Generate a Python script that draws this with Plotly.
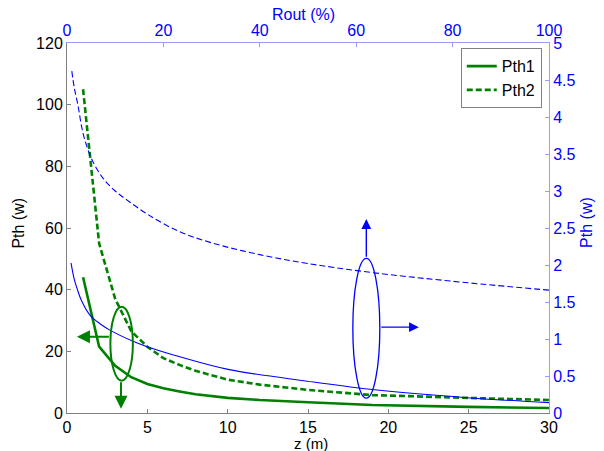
import plotly.graph_objects as go

# Threshold power against distance z (left / bottom axes)
z_m = [1, 2, 3, 4, 5, 6, 7, 8, 10, 12, 15, 19, 25, 30]
pth1_w = [44.0, 21.5, 15.3, 11.6, 9.4, 8.0, 7.0, 6.1, 4.9, 4.2, 3.5, 2.6, 2.0, 1.6]
pth2_w = [105.0, 55.0, 37.0, 26.5, 21.5, 17.8, 15.6, 13.7, 10.8, 9.2, 7.5, 5.8, 4.9, 4.2]

# Threshold power against output coupling Rout (top / right axes)
rout_solid = [0.83, 1.5, 2.1, 3, 4.8, 7, 8.9, 13.7, 18.7, 23.4, 33.4, 49.8, 62.9, 82.4, 100]
pth_solid = [2.03, 1.81, 1.68, 1.52, 1.32, 1.20, 1.12, 0.97, 0.85, 0.76, 0.59, 0.43, 0.32, 0.21, 0.14]
rout_dash = [1.0, 1.5, 2.3, 3.0, 3.7, 5.2, 7.5, 10, 12.4, 16.6, 23, 30, 40, 50, 63, 80, 100]
pth_dash = [4.62, 4.40, 4.15, 3.88, 3.69, 3.42, 3.17, 3.00, 2.88, 2.69, 2.46, 2.30, 2.14, 2.02, 1.90, 1.78, 1.66]

z_ticks = [0, 5, 10, 15, 20, 25, 30]
pth_ticks = [0, 20, 40, 60, 80, 100, 120]
rout_ticks = [0, 20, 40, 60, 80, 100]
pth_r_ticks = [0, 0.5, 1, 1.5, 2, 2.5, 3, 3.5, 4, 4.5, 5]

GREEN = "#008000"
BLUE = "#0000ff"
FONT = "Liberation Sans, Arial, sans-serif"
FS = 16

fig = go.Figure()
fig.add_trace(go.Scatter(x=z_m, y=pth1_w, mode="lines", name="Pth1",
                         line=dict(color=GREEN, width=2.6)))
fig.add_trace(go.Scatter(x=z_m, y=pth2_w, mode="lines", name="Pth2",
                         line=dict(color=GREEN, width=2.6, dash="6px,3px")))
fig.add_trace(go.Scatter(x=rout_solid, y=pth_solid, mode="lines", showlegend=False,
                         xaxis="x2", yaxis="y2",
                         line=dict(color=BLUE, width=1.1, shape="spline", smoothing=1.0)))
fig.add_trace(go.Scatter(x=rout_dash, y=pth_dash, mode="lines", showlegend=False,
                         xaxis="x2", yaxis="y2",
                         line=dict(color=BLUE, width=1.1, dash="6px,3px", shape="spline", smoothing=1.0)))

# Ellipses grouping the curves
fig.add_shape(type="circle", xref="x", yref="y", x0=2.7, x1=4.1, y0=10.5, y1=34.5,
              line=dict(color=GREEN, width=2))
fig.add_shape(type="circle", xref="x2", yref="y2", x0=59.3, x1=64.9, y0=0.2, y1=2.09,
              line=dict(color=BLUE, width=1.3))

# Arrows pointing to the relevant axes
arrows = [
    dict(x=0.62, y=24.7, ax=2.7, ay=24.7, xref="x", yref="y", color=GREEN, w=2, s=1.3),
    dict(x=3.36, y=1.4, ax=3.36, ay=10.5, xref="x", yref="y", color=GREEN, w=2, s=1.3),
    dict(x=62.1, y=2.62, ax=62.1, ay=2.09, xref="x2", yref="y2", color=BLUE, w=1.4, s=1.4),
    dict(x=73.0, y=1.16, ax=64.9, ay=1.16, xref="x2", yref="y2", color=BLUE, w=1.4, s=1.4),
]
for a in arrows:
    fig.add_annotation(x=a["x"], y=a["y"], ax=a["ax"], ay=a["ay"], xref=a["xref"], yref=a["yref"],
                       axref=a["xref"], ayref=a["yref"], text="", showarrow=True,
                       arrowhead=2, arrowsize=a["s"], arrowwidth=a["w"], arrowcolor=a["color"])

# Axis titles
titles = [
    dict(text="z (m)", x=0.506, y=-0.082, textangle=0, color="#000000", size=15),
    dict(text="Rout (%)", x=0.49, y=1.076, textangle=0, color=BLUE, size=FS),
    dict(text="Pth (w)", x=-0.1, y=0.514, textangle=-90, color="#000000", size=FS),
    dict(text="Pth (w)", x=1.079, y=0.514, textangle=-90, color=BLUE, size=FS),
]
for t in titles:
    fig.add_annotation(text=t["text"], x=t["x"], y=t["y"], xref="paper", yref="paper",
                       xanchor="center", yanchor="middle", textangle=t["textangle"],
                       showarrow=False, font=dict(family=FONT, size=t["size"], color=t["color"]))

axis_common = dict(showgrid=False, zeroline=False, showline=True, ticks="inside",
                   ticklen=4, tickfont=dict(family=FONT, size=FS))

fig.update_layout(
    width=604, height=451,
    margin=dict(l=67, r=55, t=43, b=38),
    paper_bgcolor="white", plot_bgcolor="white",
    font=dict(family=FONT, size=FS, color="#000000"),
    xaxis=dict(range=[0, 30], tickvals=z_ticks, linecolor="#808080", tickcolor="#808080",
               mirror=False, **axis_common),
    yaxis=dict(range=[0, 120], tickvals=pth_ticks, linecolor="#808080", tickcolor="#808080",
               mirror=False, **axis_common),
    xaxis2=dict(range=[0, 100], tickvals=rout_ticks, overlaying="x", side="top",
                linecolor="#9a9aff", tickcolor="#9a9aff", **axis_common),
    yaxis2=dict(range=[0, 5], tickvals=pth_r_ticks, overlaying="y", side="right",
                linecolor="#9a9aff", tickcolor="#9a9aff", **axis_common),
    legend=dict(x=0.985, y=0.986, xanchor="right", yanchor="top", bgcolor="white",
                bordercolor="#808080", borderwidth=1, itemwidth=30,
                font=dict(family=FONT, size=FS), tracegroupgap=0),
    showlegend=True,
)
fig.layout.xaxis2.tickfont.color = BLUE
fig.layout.yaxis2.tickfont.color = BLUE

fig.write_html("out.html")
